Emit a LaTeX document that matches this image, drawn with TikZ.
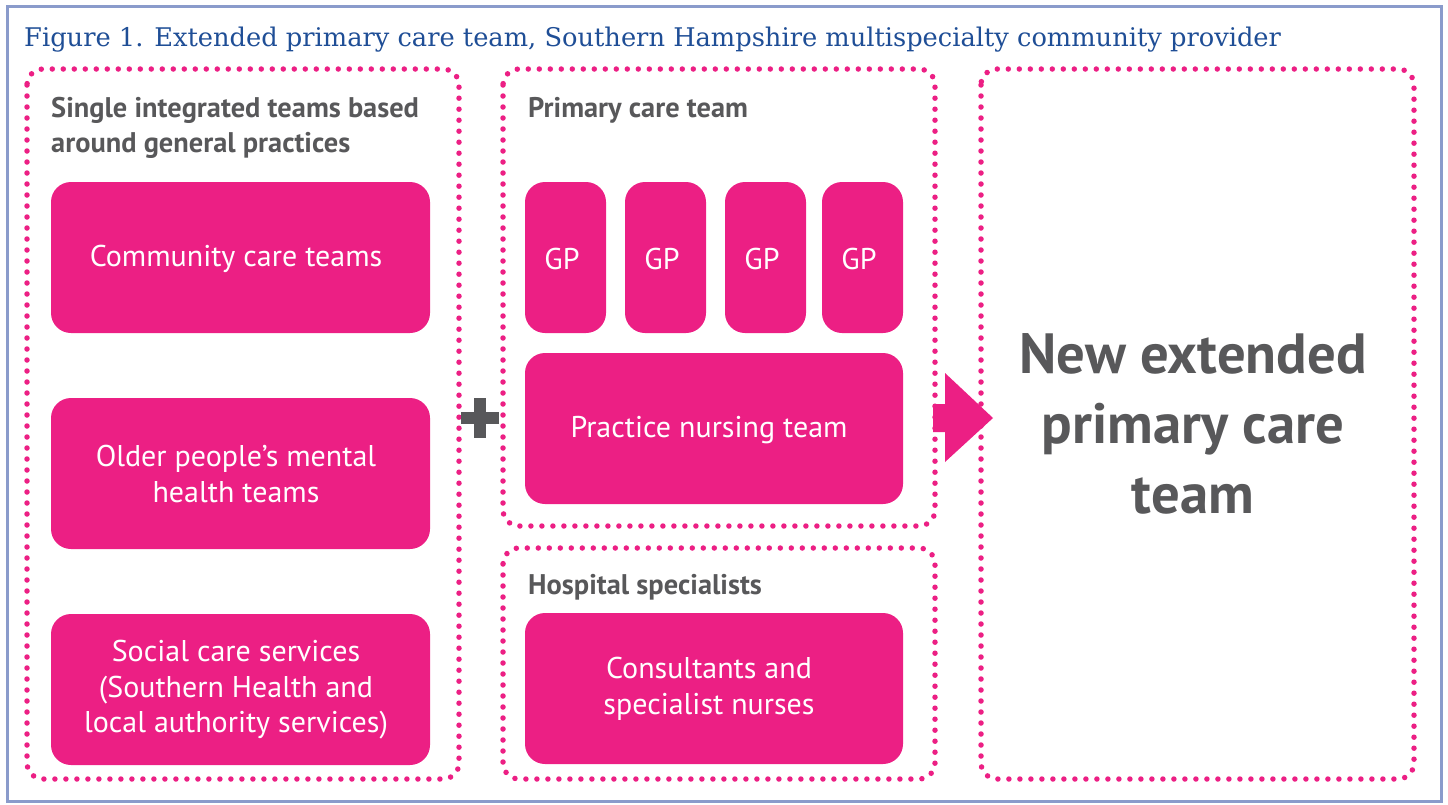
\documentclass[tikz,border=0pt]{standalone}
\usepackage{fontspec}
\setmainfont{PT Sans}
\newfontfamily\titlefont{DejaVu Serif}
\definecolor{pinkc}{HTML}{EC1F84}
\definecolor{grayc}{HTML}{58585A}
\definecolor{bluec}{HTML}{1F4E96}
\definecolor{framec}{HTML}{8A9BCB}
\tikzset{
  dotbox/.style={draw=pinkc, line width=5.5pt, line cap=round, dash pattern=on 0pt off 11pt, rounded corners=16pt},
  pinkbox/.style={fill=pinkc, rounded corners=20pt},
  wtext/.style={text=white, font=\fontsize{30}{35.5}\selectfont, align=center},
  hdr/.style={text=grayc, font=\fontsize{28.4}{35}\selectfont\bfseries, align=left, anchor=base west},
}
\begin{document}
\begin{tikzpicture}[x=1pt,y=-1pt]
\useasboundingbox (0,0) rectangle (1448,804);
\draw[framec, line width=3pt] (7,6) rectangle (1441,801);
\node[anchor=base west, text=bluec, font=\titlefont\fontsize{25.7}{30}\selectfont, inner sep=0] (title) at (24,46) {Figure 1. Extended primary care team, Southern Hampshire multispecialty community provider};
% dotted containers
\draw[dotbox] (27,69) rectangle (459,779);
\draw[dotbox] (503,69) rectangle (935,526);
\draw[dotbox] (503,548) rectangle (935,779);
\draw[dotbox] (981,69) rectangle (1414,779);
% headers
\node[hdr, inner sep=0] (h1) at (51,117) {Single integrated teams based};
\node[hdr, inner sep=0] (h1b) at (51,152) {around general practices};
\node[hdr, inner sep=0] (h2) at (528,117) {Primary care team};
\node[hdr, inner sep=0] (h3) at (528,594) {Hospital specialists};
% left column boxes
\fill[pinkbox] (51,182) rectangle (430,333);
\node[wtext] (cct) at (236,259) {Community care teams};
\fill[pinkbox] (51,398) rectangle (430,549);
\node[wtext] (opm) at (236,474) {Older people’s mental\\health teams};
\fill[pinkbox] (51,614) rectangle (430,765);
\node[wtext] (scs) at (236,690) {Social care services\\(Southern Health and\\local authority services)};
% GP boxes
\fill[pinkbox] (525,182) rectangle (606,333);
\node[wtext] (gp1) at (562,259) {GP};
\fill[pinkbox] (625,182) rectangle (706,333);
\node[wtext] (gp2) at (662,259) {GP};
\fill[pinkbox] (725,182) rectangle (806,333);
\node[wtext] (gp3) at (762,259) {GP};
\fill[pinkbox] (822,182) rectangle (903,333);
\node[wtext] (gp4) at (859,259) {GP};
\fill[pinkbox] (525,353) rectangle (903,504);
\node[wtext] (pnt) at (709,430) {Practice nursing team};
\fill[pinkbox] (525,613) rectangle (903,764);
\node[wtext] (csn) at (709,689) {Consultants and\\specialist nurses};
% plus
\fill[grayc] (461,412) rectangle (499,424);
\fill[grayc] (474,398) rectangle (486,438);
% arrow
\fill[pinkc] (933,404) -- (945,404) -- (945,373) -- (993,418) -- (945,462) -- (945,432) -- (933,432) -- cycle;
% result
\node[text=grayc, font=\fontsize{56.7}{70}\selectfont\bfseries, align=center] (res) at (1193,424) {New extended\\primary care\\team};
\end{tikzpicture}
\end{document}
